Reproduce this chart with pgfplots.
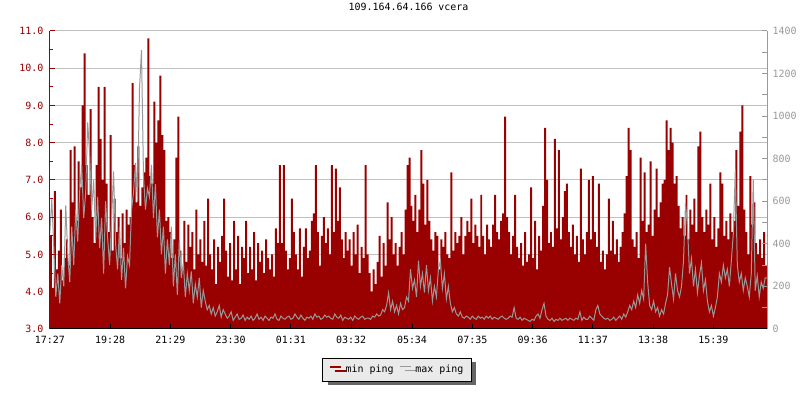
\documentclass[border=0pt]{standalone}
\usepackage{pgfplots}
\pgfplotsset{compat=1.18}
\usepackage{pgfplotstable}
\usepackage{fontspec}
\setmainfont{DejaVu Sans Mono}
\usetikzlibrary{shadows}

\definecolor{dred}{RGB}{153,0,0}
\definecolor{lgrey}{RGB}{153,153,153}
\definecolor{gridc}{RGB}{192,192,192}
\definecolor{legbg}{RGB}{234,234,234}
\definecolor{shad}{RGB}{102,102,102}

% min ping (ms), one value every 4 minutes from 17:27
\pgfplotstableread[row sep=\\]{
ms\\
5.5\\ 4.1\\ 6.7\\ 4.6\\ 5.1\\ 6.2\\ 4.3\\ 4.9\\ 5.4\\ 4.7\\
7.8\\ 6.4\\ 7.9\\ 5.9\\ 7.5\\ 6.8\\ 9.0\\ 10.4\\ 7.4\\ 6.6\\
8.9\\ 6.0\\ 5.3\\ 7.4\\ 9.5\\ 8.1\\ 7.0\\ 9.5\\ 6.9\\ 5.6\\
8.2\\ 5.1\\ 6.5\\ 5.6\\ 6.0\\ 4.9\\ 6.1\\ 5.3\\ 6.2\\ 5.8\\
6.0\\ 9.6\\ 7.4\\ 6.4\\ 7.9\\ 6.3\\ 6.8\\ 7.2\\ 7.6\\ 10.8\\
7.1\\ 6.9\\ 9.1\\ 8.0\\ 8.6\\ 9.8\\ 8.2\\ 7.8\\ 5.9\\ 6.0\\
5.6\\ 4.9\\ 5.4\\ 7.6\\ 8.7\\ 5.1\\ 4.6\\ 5.9\\ 4.8\\ 5.8\\
5.2\\ 5.6\\ 4.6\\ 6.2\\ 5.0\\ 5.4\\ 4.8\\ 5.9\\ 4.7\\ 6.5\\
5.0\\ 4.6\\ 5.4\\ 4.2\\ 5.2\\ 4.8\\ 5.5\\ 6.5\\ 5.1\\ 4.4\\
5.3\\ 4.3\\ 5.9\\ 4.6\\ 5.5\\ 4.2\\ 5.2\\ 4.9\\ 5.9\\ 4.5\\
5.2\\ 4.6\\ 5.6\\ 4.3\\ 5.3\\ 4.8\\ 5.1\\ 4.5\\ 5.4\\ 4.9\\
4.6\\ 5.0\\ 4.4\\ 5.7\\ 5.3\\ 7.4\\ 5.3\\ 7.4\\ 5.1\\ 4.6\\
4.9\\ 6.5\\ 5.6\\ 5.0\\ 4.6\\ 5.7\\ 4.4\\ 5.2\\ 5.7\\ 4.9\\
5.1\\ 5.9\\ 6.1\\ 7.4\\ 5.6\\ 4.7\\ 5.5\\ 6.0\\ 5.3\\ 5.7\\
5.0\\ 7.4\\ 5.6\\ 7.3\\ 5.9\\ 6.8\\ 5.4\\ 4.9\\ 5.6\\ 5.1\\
5.4\\ 4.7\\ 5.6\\ 5.0\\ 5.8\\ 4.5\\ 5.2\\ 4.9\\ 7.4\\ 5.0\\
4.5\\ 4.0\\ 4.6\\ 4.2\\ 4.8\\ 5.5\\ 4.4\\ 5.3\\ 4.7\\ 6.4\\
5.4\\ 6.0\\ 5.0\\ 5.3\\ 4.7\\ 5.2\\ 5.6\\ 5.0\\ 6.2\\ 7.4\\
7.6\\ 6.3\\ 5.9\\ 6.6\\ 5.6\\ 6.2\\ 7.8\\ 6.9\\ 5.8\\ 7.0\\
5.9\\ 5.4\\ 5.1\\ 5.6\\ 5.5\\ 4.6\\ 5.4\\ 5.2\\ 5.6\\ 5.0\\
4.9\\ 7.2\\ 5.1\\ 5.6\\ 5.3\\ 5.5\\ 6.0\\ 5.0\\ 5.5\\ 5.9\\
5.6\\ 6.5\\ 5.3\\ 5.8\\ 5.5\\ 5.2\\ 6.6\\ 5.5\\ 5.0\\ 5.8\\
5.4\\ 5.2\\ 5.8\\ 6.6\\ 5.6\\ 5.4\\ 5.9\\ 6.1\\ 8.7\\ 6.0\\
5.6\\ 5.0\\ 5.5\\ 6.6\\ 5.2\\ 4.9\\ 5.3\\ 4.7\\ 5.6\\ 4.8\\
5.0\\ 6.8\\ 4.9\\ 5.9\\ 4.6\\ 5.5\\ 5.1\\ 6.3\\ 8.4\\ 7.0\\
5.3\\ 5.6\\ 5.2\\ 8.1\\ 5.7\\ 7.8\\ 5.4\\ 6.0\\ 6.7\\ 6.9\\
5.6\\ 5.2\\ 5.8\\ 5.0\\ 5.5\\ 4.8\\ 7.3\\ 5.4\\ 5.0\\ 5.6\\
7.0\\ 5.4\\ 7.1\\ 5.6\\ 5.2\\ 6.9\\ 4.8\\ 5.1\\ 4.6\\ 5.0\\
6.5\\ 5.1\\ 5.9\\ 5.0\\ 5.4\\ 4.8\\ 5.2\\ 5.6\\ 6.1\\ 7.1\\
8.4\\ 7.8\\ 5.4\\ 5.2\\ 5.6\\ 4.9\\ 7.6\\ 5.9\\ 7.2\\ 5.6\\
5.8\\ 7.5\\ 5.5\\ 6.2\\ 7.3\\ 6.0\\ 6.4\\ 6.9\\ 7.0\\ 8.6\\
7.8\\ 8.4\\ 8.0\\ 6.9\\ 7.1\\ 6.3\\ 5.7\\ 6.0\\ 5.5\\ 6.6\\
5.4\\ 6.2\\ 5.8\\ 6.5\\ 5.6\\ 7.9\\ 8.3\\ 6.0\\ 5.6\\ 6.2\\
5.8\\ 6.9\\ 5.4\\ 6.0\\ 5.2\\ 5.7\\ 7.2\\ 6.9\\ 5.5\\ 5.9\\
5.4\\ 6.1\\ 5.6\\ 5.9\\ 7.8\\ 6.3\\ 8.3\\ 9.0\\ 6.2\\ 5.6\\
5.0\\ 7.1\\ 5.8\\ 6.4\\ 5.3\\ 5.0\\ 5.4\\ 4.9\\ 5.6\\ 4.7\\
4.7\\
}\minping

% max ping (ms), same sampling
\pgfplotstableread[row sep=\\]{
ms\\
450\\ 610\\ 380\\ 150\\ 260\\ 120\\ 300\\ 200\\ 580\\ 350\\
220\\ 480\\ 300\\ 560\\ 410\\ 650\\ 770\\ 520\\ 640\\ 970\\
820\\ 560\\ 700\\ 420\\ 620\\ 380\\ 520\\ 260\\ 600\\ 430\\
300\\ 520\\ 740\\ 400\\ 280\\ 480\\ 230\\ 380\\ 190\\ 340\\
300\\ 560\\ 640\\ 780\\ 600\\ 1130\\ 1310\\ 720\\ 560\\ 660\\
620\\ 770\\ 520\\ 680\\ 430\\ 560\\ 350\\ 480\\ 260\\ 420\\
300\\ 480\\ 200\\ 350\\ 160\\ 420\\ 240\\ 310\\ 150\\ 260\\
180\\ 270\\ 120\\ 210\\ 150\\ 240\\ 100\\ 180\\ 130\\ 90\\
110\\ 70\\ 100\\ 60\\ 80\\ 110\\ 55\\ 90\\ 70\\ 50\\
60\\ 80\\ 40\\ 55\\ 70\\ 45\\ 50\\ 65\\ 40\\ 55\\
45\\ 60\\ 40\\ 50\\ 70\\ 45\\ 55\\ 40\\ 60\\ 50\\
40\\ 55\\ 50\\ 70\\ 45\\ 40\\ 60\\ 50\\ 45\\ 55\\
60\\ 45\\ 50\\ 70\\ 55\\ 45\\ 65\\ 50\\ 40\\ 55\\
50\\ 60\\ 45\\ 70\\ 55\\ 60\\ 45\\ 50\\ 65\\ 55\\
60\\ 50\\ 45\\ 70\\ 55\\ 50\\ 65\\ 40\\ 55\\ 50\\
45\\ 55\\ 40\\ 60\\ 50\\ 45\\ 55\\ 60\\ 45\\ 50\\
50\\ 45\\ 60\\ 55\\ 70\\ 60\\ 65\\ 90\\ 80\\ 110\\
170\\ 90\\ 130\\ 80\\ 110\\ 70\\ 120\\ 90\\ 100\\ 150\\
130\\ 280\\ 190\\ 230\\ 150\\ 320\\ 200\\ 260\\ 170\\ 300\\
180\\ 240\\ 130\\ 200\\ 150\\ 280\\ 320\\ 190\\ 260\\ 140\\
200\\ 120\\ 80\\ 100\\ 70\\ 60\\ 80\\ 55\\ 50\\ 60\\
55\\ 45\\ 60\\ 50\\ 45\\ 60\\ 50\\ 55\\ 45\\ 60\\
50\\ 60\\ 45\\ 55\\ 50\\ 45\\ 55\\ 60\\ 50\\ 45\\
50\\ 60\\ 55\\ 100\\ 50\\ 45\\ 55\\ 40\\ 50\\ 45\\
40\\ 35\\ 45\\ 40\\ 60\\ 70\\ 50\\ 90\\ 120\\ 60\\
45\\ 40\\ 50\\ 35\\ 45\\ 40\\ 50\\ 40\\ 45\\ 50\\
40\\ 50\\ 45\\ 40\\ 50\\ 45\\ 80\\ 40\\ 55\\ 45\\
45\\ 60\\ 50\\ 40\\ 90\\ 110\\ 70\\ 60\\ 50\\ 45\\
50\\ 40\\ 45\\ 55\\ 40\\ 50\\ 60\\ 45\\ 70\\ 55\\
80\\ 110\\ 90\\ 130\\ 100\\ 160\\ 120\\ 180\\ 140\\ 400\\
220\\ 110\\ 90\\ 130\\ 80\\ 100\\ 60\\ 90\\ 70\\ 120\\
160\\ 290\\ 210\\ 140\\ 260\\ 180\\ 150\\ 200\\ 320\\ 590\\
480\\ 260\\ 330\\ 200\\ 280\\ 170\\ 250\\ 310\\ 180\\ 230\\
130\\ 80\\ 110\\ 60\\ 100\\ 150\\ 260\\ 220\\ 300\\ 240\\
280\\ 200\\ 320\\ 450\\ 750\\ 300\\ 220\\ 260\\ 180\\ 240\\
200\\ 150\\ 260\\ 700\\ 180\\ 250\\ 150\\ 220\\ 190\\ 240\\
240\\
}\maxping

\pgfplotsset{
  layers/gridbehind/.define layer set={axis background,axis grid,pre main,main,axis ticks,axis lines,axis tick labels,axis descriptions,axis foreground}{
    grid style={/pgfplots/on layer=axis grid},
    tick style={/pgfplots/on layer=axis ticks},
    axis line style={/pgfplots/on layer=axis lines},
    tick label style={/pgfplots/on layer=axis tick labels},
    legend style={/pgfplots/on layer=axis descriptions},
    title style={/pgfplots/on layer=axis descriptions},
  },
  base/.style={
    set layers=gridbehind,
    scale only axis, width=720bp, height=299bp,
    at={(50bp,70bp)}, anchor=south west,
    xmin=0, xmax=1440,
    tick label style={font=\fontsize{10bp}{12bp}\selectfont},
    major tick length=5bp,
  },
}

\begin{document}
\begin{tikzpicture}

\begin{axis}[base,
  ymin=3, ymax=11,
  axis x line*=bottom, axis y line*=left,
  xtick={0,121,242,363,484,605,727,848,969,1090,1211,1332},
  xticklabels={17:27,19:28,21:29,23:30,01:31,03:32,05:34,07:35,09:36,11:37,13:38,15:39},
  ytick={3,4,5,6,7,8,9,10,11},
  yticklabels={3.0,4.0,5.0,6.0,7.0,8.0,9.0,10.0,11.0},
  minor y tick num=1, minor tick length=3bp,
  ymajorgrids, grid style={gridc, line width=1bp},
  x axis line style={black, line width=1bp},
  y axis line style={dred, line width=1bp},
  xtick style={black, line width=1bp},
  ytick style={dred, line width=1bp},
  yticklabel style={text=dred, xshift=-3bp},
  xticklabel style={text=black, yshift=-4bp},
  title={109.164.64.166 vcera},
  title style={at={(0.5,1)}, anchor=center, yshift=18bp, font=\fontsize{10bp}{12bp}\selectfont},
]
\addplot[draw=none, fill=dred, const plot] table[x expr=\coordindex*4, y=ms] {\minping} \closedcycle;
\end{axis}

\begin{axis}[base,
  ymin=0, ymax=1400,
  axis x line=none, axis y line*=right,
  ytick={0,200,400,600,800,1000,1200,1400},
  yticklabels={0,200,400,600,800,1000,1200,1400},
  minor y tick num=1, minor tick length=5bp,
  y axis line style={lgrey, line width=1bp},
  ytick style={lgrey, line width=1bp},
  yticklabel style={text=lgrey, xshift=2bp},
  legend columns=2,
  legend image code/.code={\draw[#1] (0bp,3bp) -- (11bp,3bp); \path (0bp,0bp) (13bp,0bp);},
  legend style={at={(0.484,-0.137)}, anchor=center,
    draw=black, line width=1bp, fill=legbg,
    drop shadow={shadow xshift=5bp, shadow yshift=-4bp, fill=shad, opacity=1},
    font=\fontsize{10bp}{12bp}\selectfont,
    inner xsep=6bp, inner ysep=5bp,
    /tikz/every even column/.append style={column sep=4bp}},
]
\addlegendimage{dred, line width=2bp}
\addlegendentry{min ping}
\addplot[lgrey, line width=1bp] table[x expr=\coordindex*4, y=ms] {\maxping};
\addlegendentry{max ping}
\end{axis}
\path (0,0) rectangle (800bp,400bp);
\end{tikzpicture}
\end{document}
